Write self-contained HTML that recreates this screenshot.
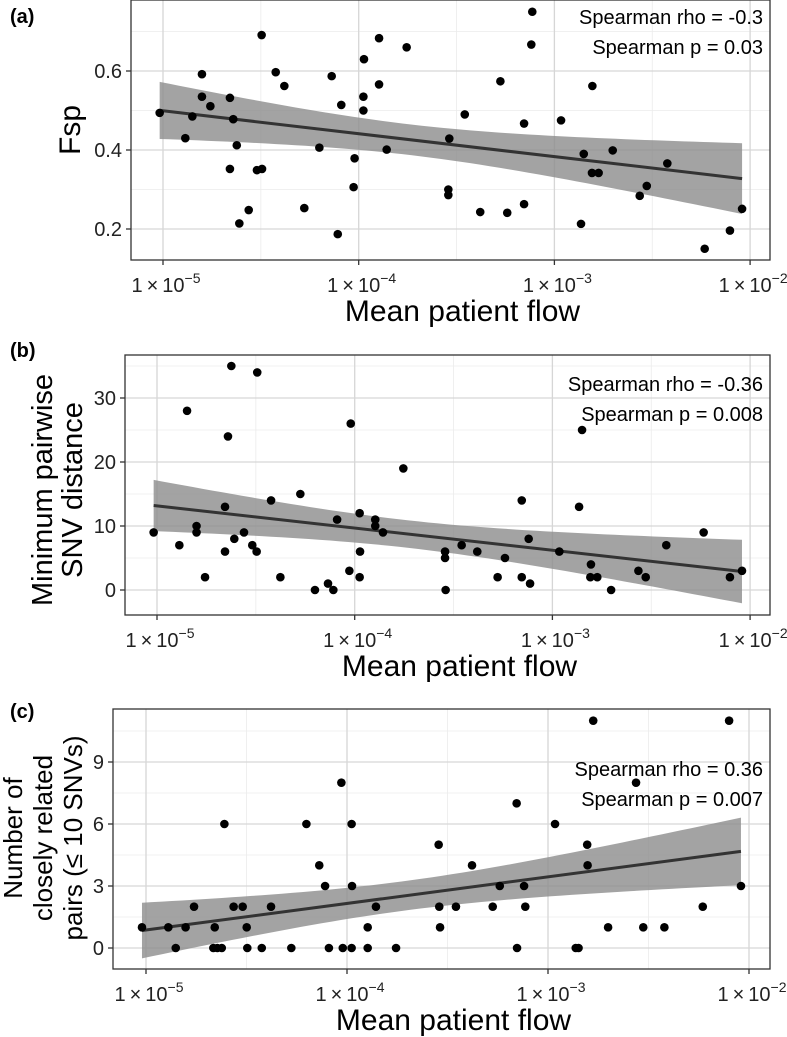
<!DOCTYPE html>
<html><head><meta charset="utf-8">
<style>
html,body{margin:0;padding:0;background:#fff;}
svg{display:block;font-family:"Liberation Sans",Arial,sans-serif;}
</style></head>
<body>
<svg id="chart" width="787" height="1037" viewBox="0 0 787 1037" xmlns="http://www.w3.org/2000/svg"></svg>
<script>
// ---- Panel (a) data: log10(mean patient flow), Fsp ----
const aLogX = [-5.017,-4.886,-4.850,-4.801,-4.801,-4.758,-4.658,-4.641,-4.623,-4.658,-4.610,-4.562,-4.520,-4.494,-4.496,-4.424,-4.380,-4.278,-4.201,-4.138,-4.089,-4.107,-4.026,-4.021,-3.976,-3.976,-3.973,-3.896,-3.896,-3.857,-3.755,-3.537,-3.542,-3.542,-3.458,-3.379,-3.276,-3.241,-3.155,-3.155,-3.118,-3.113,-2.966,-2.864,-2.850,-2.808,-2.774,-2.806,-2.702,-2.564,-2.528,-2.423,-2.232,-2.103,-2.041];
const aVals = [0.494,0.430,0.485,0.592,0.535,0.511,0.532,0.478,0.412,0.352,0.214,0.248,0.349,0.352,0.691,0.597,0.562,0.253,0.406,0.587,0.514,0.187,0.306,0.379,0.535,0.500,0.630,0.683,0.566,0.401,0.660,0.429,0.300,0.286,0.490,0.243,0.574,0.241,0.467,0.263,0.667,0.750,0.475,0.213,0.390,0.342,0.342,0.562,0.399,0.284,0.309,0.366,0.150,0.196,0.251];
const aYTicks = [0.2,0.4,0.6];
const aYMinor = [0.3,0.5,0.7];
const aStats = ["Spearman rho = -0.3","Spearman p = 0.03"];

// ---- Panel (b) data: minimum pairwise SNV distance ----
const bLogX = [-5.017,-4.887,-4.848,-4.80,-4.80,-4.757,-4.656,-4.656,-4.641,-4.624,-4.609,-4.560,-4.518,-4.496,-4.493,-4.423,-4.376,-4.275,-4.201,-4.135,-4.108,-4.089,-4.027,-4.020,-3.975,-3.973,-3.975,-3.896,-3.896,-3.857,-3.754,-3.543,-3.543,-3.540,-3.459,-3.380,-3.277,-3.240,-3.155,-3.155,-3.120,-3.113,-2.965,-2.865,-2.850,-2.805,-2.808,-2.773,-2.703,-2.565,-2.528,-2.424,-2.235,-2.102,-2.041];
const bVals = [9,7,28,10,9,2,13,6,24,35,8,9,7,6,34,14,2,15,0,1,0,11,3,26,12,6,2,11,10,9,19,6,5,0,7,6,2,5,14,2,8,1,6,13,25,4,2,2,0,3,2,7,9,2,3];
const bYTicks = [0,10,20,30];
const bYMinor = [5,15,25,35];
const bStats = ["Spearman rho = -0.36","Spearman p = 0.008"];

// ---- Panel (c) data: number of closely related pairs ----
const cLogX = [-5.02,-4.889,-4.852,-4.803,-4.761,-4.658,-4.665,-4.645,-4.623,-4.610,-4.564,-4.519,-4.499,-4.496,-4.424,-4.378,-4.277,-4.202,-4.138,-4.109,-4.090,-4.028,-4.021,-3.977,-3.975,-3.977,-3.897,-3.897,-3.856,-3.756,-3.544,-3.541,-3.537,-3.458,-3.378,-3.275,-3.240,-3.156,-3.154,-3.119,-3.113,-2.965,-2.862,-2.848,-2.805,-2.803,-2.775,-2.701,-2.562,-2.526,-2.421,-2.230,-2.099,-2.040];
const cVals = [1,1,0,1,2,1,0,0,0,6,2,2,1,0,0,2,0,6,4,3,0,8,0,6,3,0,1,0,2,0,5,2,1,2,4,2,3,7,0,3,2,6,0,0,5,4,11,1,8,1,1,2,11,3];
const cYTicks = [0,3,6,9];
const cYMinor = [1.5,4.5,7.5,10.5];
const cStats = ["Spearman rho = 0.36","Spearman p = 0.007"];

const xTickExps = [-5,-4,-3,-2];

const NS = "http://www.w3.org/2000/svg";
const svg = document.getElementById("chart");
function mk(tag, attrs, parent){
  const e = document.createElementNS(NS, tag);
  for (const k in attrs) e.setAttribute(k, attrs[k]);
  (parent||svg).appendChild(e);
  return e;
}

function regression(xs, ys){
  const n = xs.length;
  let mx=0,my=0; for(let i=0;i<n;i++){mx+=xs[i];my+=ys[i];} mx/=n; my/=n;
  let sxx=0,sxy=0; for(let i=0;i<n;i++){sxx+=(xs[i]-mx)**2; sxy+=(xs[i]-mx)*(ys[i]-my);}
  const b = sxy/sxx, a = my-b*mx;
  let sse=0; for(let i=0;i<n;i++){sse+=(ys[i]-a-b*xs[i])**2;}
  const s = Math.sqrt(sse/(n-2));
  return {a,b,mx,sxx,s,n};
}

function panel(o){
  const g = mk("g", {});
  
  
  const X = v => o.x0 + (v - (-5)) * o.dec;
  const Y = v => o.yb + (v - o.ymin) * (o.yt - o.yb) / (o.ymax - o.ymin);
  mk("rect",{x:o.L,y:o.T,width:o.R-o.L,height:o.B-o.T,fill:"#fff"},g);
  xTickExps.forEach((e,i)=>{ if(i<xTickExps.length-1){ const xx=X(e+0.5);
    const l=mk("line",{x1:xx,x2:xx,y1:o.T,y2:o.B,stroke:"#ebebeb","stroke-width":0.8},g);
     }});
  o.yMinor.forEach(v=>{ const yy=Y(v); if(yy>o.T&&yy<o.B){
    const l=mk("line",{x1:o.L,x2:o.R,y1:yy,y2:yy,stroke:"#ebebeb","stroke-width":0.8},g);
     }});
  xTickExps.forEach(e=>{ const xx=X(e);
    const l=mk("line",{x1:xx,x2:xx,y1:o.T,y2:o.B,stroke:"#d6d6d6","stroke-width":1.3},g);
     });
  o.yTicks.forEach(v=>{ const yy=Y(v);
    const l=mk("line",{x1:o.L,x2:o.R,y1:yy,y2:yy,stroke:"#d6d6d6","stroke-width":1.3},g);
     });
  const r = regression(o.xs, o.ys);
  const xmin = Math.min(...o.xs), xmax = Math.max(...o.xs);
  const t = 2.005, N = 60;
  const up=[], lo=[];
  for(let i=0;i<=N;i++){
    const xv = xmin + (xmax-xmin)*i/N;
    const fit = r.a + r.b*xv;
    const se = r.s*Math.sqrt(1/r.n + (xv-r.mx)**2/r.sxx);
    up.push(X(xv).toFixed(2)+","+Y(fit+t*se).toFixed(2));
    lo.unshift(X(xv).toFixed(2)+","+Y(fit-t*se).toFixed(2));
  }
  const band = mk("polygon",{points:up.concat(lo).join(" "),fill:"#8c8c8c","fill-opacity":0.8},g);
  
  
  const fl = mk("line",{x1:X(xmin),y1:Y(r.a+r.b*xmin),x2:X(xmax),y2:Y(r.a+r.b*xmax),stroke:"#333","stroke-width":3},g);
  
  
  o.xs.forEach((xv,i)=>{
    const c = mk("circle",{cx:X(xv),cy:Y(o.ys[i]),r:4.3,fill:"#000"},g);
    
    
  });
  mk("rect",{x:o.L,y:o.T,width:o.R-o.L,height:o.B-o.T,fill:"none",stroke:"#333","stroke-width":1.3},g);
  xTickExps.forEach(e=>{ const xx=X(e);
    mk("line",{x1:xx,x2:xx,y1:o.B,y2:o.B+5,stroke:"#333","stroke-width":1.3},g);
    const tx = mk("text",{x:xx+3,y:o.B+32,"text-anchor":"middle","font-size":20,fill:"#222"},g);
    
    
    tx.innerHTML = '1\u2009\u00d7\u200910<tspan dy="-9" font-size="14">\u2212'+(-e)+'</tspan>';
  });
  o.yTicks.forEach(v=>{ const yy=Y(v);
    mk("line",{x1:o.L-5,x2:o.L,y1:yy,y2:yy,stroke:"#333","stroke-width":1.3},g);
    const tx = mk("text",{x:o.L-9,y:yy+7,"text-anchor":"end","font-size":20,fill:"#222"},g);
    
    
    tx.textContent = String(v);
  });
  const xt = mk("text",{x:(o.L+o.R)/2+12,y:o.B+61,"text-anchor":"middle","font-size":30,fill:"#000"},g);
  
  
  xt.textContent = "Mean patient flow";
  const yt = mk("text",{transform:"translate("+o.ytx+","+o.yty+") rotate(-90)","text-anchor":"middle","font-size":o.yfs,fill:"#000"},g);
  
  
  const n = o.ytitle.length;
  o.ytitle.forEach((s,i)=>{ const ts=mk("tspan",{x:0,y:(i-(n-1))*30},yt); ts.textContent=s; });
  const pt = mk("text",{x:10,y:o.tagY,"font-size":20,"font-weight":"bold",fill:"#000"},g);
  
  
  pt.textContent = o.tag;
  o.stats.forEach((s,i)=>{
    const st = mk("text",{x:o.R-7,y:o.statY+i*30,"text-anchor":"end","font-size":20,fill:"#000"},g);
    
    
    st.textContent = s;
  });
}

panel({name:"panel-a", tag:"(a)", tagY:23, L:131, R:770, T:0, B:260, x0:163, dec:195.7,
  ymin:0.2, ymax:0.6, yb:229, yt:71, xs:aLogX, ys:aVals, yTicks:aYTicks, yMinor:aYMinor,
  stats:aStats, statY:24, ytitle:["Fsp"], ytx:80, yty:130, yfs:30});
panel({name:"panel-b", tag:"(b)", tagY:357, L:125, R:770, T:355, B:615, x0:157, dec:197.7,
  ymin:0, ymax:30, yb:590, yt:398, xs:bLogX, ys:bVals, yTicks:bYTicks, yMinor:bYMinor,
  stats:bStats, statY:391, ytitle:["Minimum pairwise","SNV distance"], ytx:82, yty:490, yfs:29});
panel({name:"panel-c", tag:"(c)", tagY:718, L:113, R:770, T:709, B:969, x0:146, dec:201,
  ymin:0, ymax:9, yb:948, yt:762, xs:cLogX, ys:cVals, yTicks:cYTicks, yMinor:cYMinor,
  stats:cStats, statY:776, ytitle:["Number of","closely related","pairs (\u2264 10 SNVs)"], ytx:82, yty:838, yfs:26});
</script>
</body></html>
